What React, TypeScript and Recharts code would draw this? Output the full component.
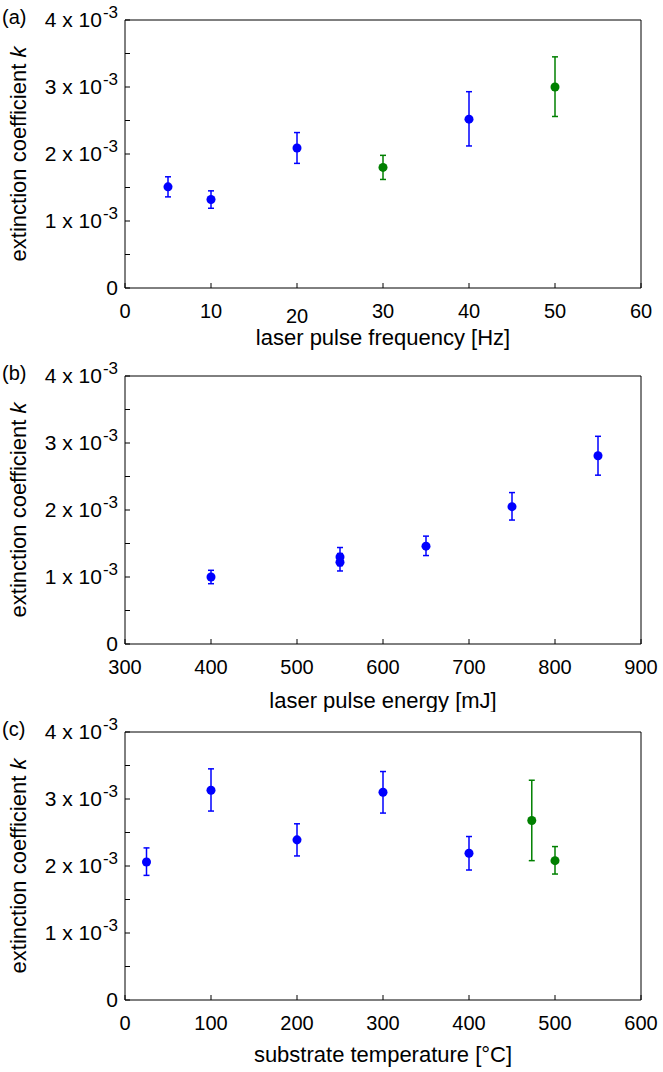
import { ScatterChart, Scatter, XAxis, YAxis, ErrorBar, Label } from "recharts";

const FONT = "'Liberation Sans', Arial, Helvetica, sans-serif";
const BLUE = "#0000ff";
const GREEN = "#008000";

// k values are read in units of 1e-3
const kTicks = [0, 0.5, 1, 1.5, 2, 2.5, 3, 3.5, 4];

// (a) laser pulse frequency
const freqTicks = [0, 10, 20, 30, 40, 50, 60];
const freqBlueX = [5, 10, 20, 40];
const freqBlueK = [1.51, 1.32, 2.09, 2.52];
const freqBlueLo = [1.36, 1.19, 1.86, 2.12];
const freqBlueHi = [1.66, 1.45, 2.32, 2.93];
const freqGreenX = [30, 50];
const freqGreenK = [1.8, 3.0];
const freqGreenLo = [1.62, 2.56];
const freqGreenHi = [1.98, 3.45];

// (b) laser pulse energy
const energyTicks = [300, 400, 500, 600, 700, 800, 900];
const energyX = [400, 550, 550, 650, 750, 850];
const energyK = [1.0, 1.3, 1.22, 1.46, 2.05, 2.81];
const energyLo = [0.9, 1.17, 1.09, 1.32, 1.85, 2.52];
const energyHi = [1.1, 1.44, 1.35, 1.61, 2.26, 3.1];

// (c) substrate temperature
const tempTicks = [0, 100, 200, 300, 400, 500, 600];
const tempBlueX = [25, 100, 200, 300, 400];
const tempBlueK = [2.06, 3.13, 2.39, 3.1, 2.19];
const tempBlueLo = [1.86, 2.82, 2.15, 2.79, 1.94];
const tempBlueHi = [2.27, 3.45, 2.63, 3.41, 2.44];
const tempGreenX = [473, 500];
const tempGreenK = [2.68, 2.08];
const tempGreenLo = [2.08, 1.88];
const tempGreenHi = [3.28, 2.29];

function rows(xs: number[], ks: number[], lo: number[], hi: number[]) {
    return xs.map((x, i) => ({ x, k: ks[i], err: [ks[i] - lo[i], hi[i] - ks[i]] }));
}

function YTick(props: any) {
    const { x, y, payload } = props;
    const v = payload.value;
    if (!Number.isInteger(v)) return <g />;
    return (
        <text x={x} y={y} dy={7} textAnchor="end" fontSize={21} fontFamily={FONT} fill="#000">
            {v === 0 ? "0" : (
                <>
                    <tspan>{`${v} x 10`}</tspan>
                    <tspan dx={1} dy={-9} fontSize={17}>-3</tspan>
                </>
            )}
        </text>
    );
}

function XTick(props: any) {
    const { x, y, payload, drop } = props;
    const shift = drop && drop.includes(payload.value) ? 5 : 0;
    return (
        <text x={x} y={y + shift} dy={15} textAnchor="middle" fontSize={20} fontFamily={FONT} fill="#000">
            {payload.value}
        </text>
    );
}

type PanelProps = {
    letter: string;
    title: string;
    titleY: number;
    height: number;
    xTicks: number[];
    drop?: number[];
    blue: any[];
    green?: any[];
};

function Panel({ letter, title, titleY, height, xTicks, drop, blue, green }: PanelProps) {
    const domain = [xTicks[0], xTicks[xTicks.length - 1]];
    return (
        <ScatterChart width={663} height={height} margin={{ top: 19, right: 21, bottom: height - 288 - 68, left: 0 }}>
            <XAxis
                dataKey="x"
                type="number"
                domain={domain}
                ticks={xTicks}
                allowDataOverflow
                height={68}
                tickSize={-5}
                tickMargin={20}
                stroke="#000"
                tick={(p: any) => <XTick {...p} drop={drop} />}
            >
                <Label
                    content={(p: any) => {
                        const vb = p.viewBox;
                        return (
                            <text x={vb.x + vb.width / 2} y={vb.y + titleY} textAnchor="middle" fontSize={22} fontFamily={FONT} fill="#000">
                                {title}
                            </text>
                        );
                    }}
                />
            </XAxis>
            <XAxis xAxisId="top" orientation="top" type="number" domain={domain} ticks={xTicks} allowDataOverflow height={1} tickSize={-5} tick={false} stroke="#000" />
            <YAxis
                dataKey="k"
                type="number"
                domain={[0, 4]}
                ticks={kTicks}
                allowDataOverflow
                width={125}
                tickSize={-5}
                tickMargin={12}
                stroke="#000"
                tick={<YTick />}
            >
                <Label
                    content={(p: any) => {
                        const vb = p.viewBox;
                        const cy = vb.y + vb.height / 2;
                        return (
                            <g fontFamily={FONT} fill="#000">
                                <text x={2} y={vb.y + 4} fontSize={20}>{letter}</text>
                                <text x={26} y={cy} textAnchor="middle" fontSize={22} transform={`rotate(-90, 26, ${cy})`}>
                                    extinction coefficient <tspan fontStyle="italic">k</tspan>
                                </text>
                            </g>
                        );
                    }}
                />
            </YAxis>
            <YAxis yAxisId="right" orientation="right" type="number" domain={[0, 4]} ticks={kTicks} allowDataOverflow width={1} tickSize={-5} tick={false} stroke="#000" />
            <Scatter data={blue} fill={BLUE} isAnimationActive={false}>
                <ErrorBar dataKey="err" direction="y" width={3} stroke={BLUE} strokeWidth={1.5} isAnimationActive={false} />
            </Scatter>
            {green && (
                <Scatter data={green} fill={GREEN} isAnimationActive={false}>
                    <ErrorBar dataKey="err" direction="y" width={3} stroke={GREEN} strokeWidth={1.5} isAnimationActive={false} />
                </Scatter>
            )}
        </ScatterChart>
    );
}

export default function App() {
    return (
        <div style={{ width: 663, height: 1072, background: "#fff" }}>
            <style>{"body{margin:0}"}</style>
            <Panel
                letter="(a)"
                title="laser pulse frequency [Hz]"
                titleY={57}
                height={356}
                xTicks={freqTicks}
                drop={[20]}
                blue={rows(freqBlueX, freqBlueK, freqBlueLo, freqBlueHi)}
                green={rows(freqGreenX, freqGreenK, freqGreenLo, freqGreenHi)}
            />
            <Panel
                letter="(b)"
                title="laser pulse energy [mJ]"
                titleY={64}
                height={356}
                xTicks={energyTicks}
                blue={rows(energyX, energyK, energyLo, energyHi)}
            />
            <Panel
                letter="(c)"
                title="substrate temperature [°C]"
                titleY={62}
                height={360}
                xTicks={tempTicks}
                blue={rows(tempBlueX, tempBlueK, tempBlueLo, tempBlueHi)}
                green={rows(tempGreenX, tempGreenK, tempGreenLo, tempGreenHi)}
            />
        </div>
    );
}
